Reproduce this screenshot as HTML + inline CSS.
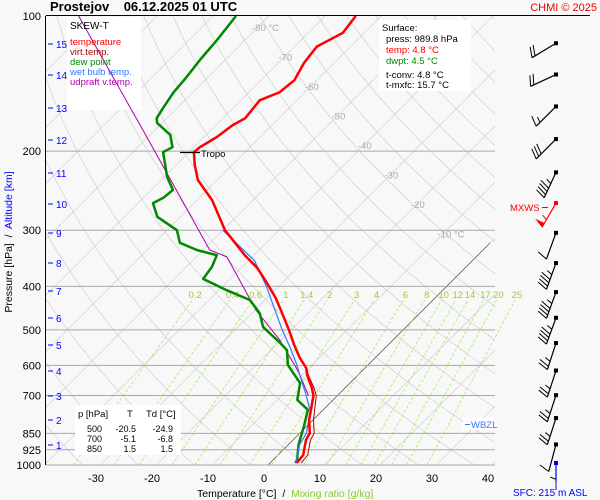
<!DOCTYPE html>
<html><head><meta charset="utf-8">
<style>
html,body{margin:0;padding:0;background:#f8f8f8;}
svg{display:block;font-family:"Liberation Sans",sans-serif;}
</style></head>
<body>
<svg id="chart" width="600" height="500" viewBox="0 0 600 500">
<defs>
<clipPath id="plotClip"><rect x="46" y="16" width="449" height="449"/></clipPath>
<clipPath id="mixClip"><rect x="46" y="300" width="480" height="165"/></clipPath>
</defs>
<rect x="0" y="0" width="600" height="500" fill="#f8f8f8"/>
<g id="grid" clip-path="url(#plotClip)"></g>
<g id="mix" clip-path="url(#mixClip)"></g>
<g id="plines"></g>
<g id="isolabels"></g>

<rect x="67" y="17" width="74" height="93" fill="#fff"/>
<rect x="379" y="20" width="92" height="71" fill="#fff"/>
<rect x="75" y="405" width="106" height="50" fill="#fff"/>

<g id="series" clip-path="url(#plotClip)"></g>
<g id="axes"></g>
<g id="barbs"></g>

<text x="50" y="11" font-size="13" font-weight="bold" fill="#000" style="white-space:pre">Prostejov    06.12.2025 01 UTC</text>
<text x="597" y="11" font-size="11" fill="#e00" text-anchor="end">CHMI © 2025</text>
<line x1="46" y1="15.5" x2="590" y2="15.5" stroke="#000" stroke-width="1"/>

<g>
<text x="70" y="29" font-size="10" fill="#000">SKEW-T</text>
<text x="70" y="45" font-size="9.5" fill="#f00">temperature</text>
<text x="70" y="55" font-size="9.5" fill="#a00">virt.temp.</text>
<text x="70" y="65" font-size="9.5" fill="#080">dew point</text>
<text x="70" y="75" font-size="9.5" fill="#37f">wet bulb temp.</text>
<text x="70" y="85" font-size="9.5" fill="#a0a">udpraft v.temp.</text>
</g>

<g>
<text x="382" y="31" font-size="9.5" fill="#000">Surface:</text>
<text x="386" y="42" font-size="9.5" fill="#000">press: 989.8 hPa</text>
<text x="386" y="53" font-size="9.5" fill="#f00">temp: 4.8 °C</text>
<text x="386" y="64" font-size="9.5" fill="#080">dwpt: 4.5 °C</text>
<text x="386" y="78" font-size="9.5" fill="#000">t-conv: 4.8 °C</text>
<text x="386" y="88" font-size="9.5" fill="#000">t-mxfc: 15.7 °C</text>
</g>

<g>
<text x="78" y="417" font-size="9.5">p [hPa]</text>
<text x="127" y="417" font-size="9.5">T</text>
<text x="146" y="417" font-size="9.5">Td [°C]</text>
<g font-size="9" text-anchor="end">
<text x="102" y="432">500</text>
<text x="136" y="432">-20.5</text>
<text x="173" y="432">-24.9</text>
<text x="102" y="442">700</text>
<text x="136" y="442">-5.1</text>
<text x="173" y="442">-6.8</text>
<text x="102" y="452">850</text>
<text x="136" y="452">1.5</text>
<text x="173" y="452">1.5</text>
</g>
</g>

<g>
<line x1="180" y1="152.5" x2="200" y2="152.5" stroke="#000" stroke-width="1.2"/>
<text x="201" y="157" font-size="9.5" fill="#000">Tropo</text>
</g>
<text x="510" y="211" font-size="9.5" fill="#f00">MXWS</text>
<line x1="542" y1="207.5" x2="548" y2="207.5" stroke="#f00"/>
<rect x="463" y="418" width="30" height="12" fill="#fff"/>
<line x1="465" y1="424.5" x2="470" y2="424.5" stroke="#37f"/>
<text x="471" y="428" font-size="9.5" fill="#37f">WBZL</text>

<text x="197" y="497" font-size="10.5" fill="#000" style="white-space:pre">Temperature [°C]  /  <tspan fill="#8c3">Mixing ratio [g/kg]</tspan></text>
<text x="513" y="496" font-size="10" fill="#00f">SFC: 215 m ASL</text>
<text transform="translate(12,242) rotate(-90)" font-size="10.5" text-anchor="middle" fill="#000" style="white-space:pre">Pressure [hPa]  /  <tspan fill="#00f">Altitude [km]</tspan></text>

<script>
// ---------- data ----------
const tempP = [990,950,879,850,794,735,700,674,630,608,578,540,500,459,425,391,364,341,300,257,232,215,201,196,186,175,169,154,148,139,127,117,109,100];
const tempT = [4.8,4.5,2.3,1.8,-0.7,-2.9,-4.3,-5.9,-9.1,-10.5,-13.4,-16.8,-20.4,-24.6,-28.4,-33.0,-37.1,-41.6,-49.6,-57.3,-63.4,-66.6,-69.1,-68.9,-67.7,-67.0,-66.0,-66.6,-64.5,-64.0,-65.4,-66.0,-63.8,-64.5];
const virtP = [990,950,879,850,794,735,700,674,630,608];
const virtT = [5.6,5.3,3.1,2.6,0.1,-2.3,-3.8,-5.5,-8.9,-10.4];
const dewP = [990,975,900,820,754,716,657,599,555,535,493,459,429,408,385,362,341,332,320,300,280,261,254,244,228,201,196,184,173,169,160,148,137,125,113,100];
const dewT = [4.5,4.3,1.8,-0.5,-2.7,-6.4,-8.9,-14.3,-17.1,-19.6,-25.5,-28.6,-32.7,-38.6,-44.8,-45.4,-46.6,-51.1,-55.4,-58.2,-64.1,-67.3,-66.4,-66.1,-69.5,-74.6,-73.8,-76.4,-80.9,-81.8,-82.5,-83.4,-83.8,-84.5,-85.0,-85.9];
const wetP = [990,900,850,760,700,650,600,550,500,450,400,350,300];
const wetT = [4.6,2.0,1.2,-2.0,-5.6,-9.0,-12.6,-16.8,-21.6,-26.6,-32.2,-39.0,-50.0];
const updP = [700,620,527,452,344,332,179,100];
const updT = [-5.2,-11.2,-20.2,-29.8,-44.5,-48.8,-82.3,-114];
const pressureTicks = [100,200,300,400,500,600,700,850,925,1000];
const tempTicks = [-30,-20,-10,0,10,20,30,40];
const altKm = [1,2,3,4,5,6,7,8,9,10,11,12,13,14,15];
const altY = [445,420,396,371,345,318,291,263,233,204,173,140,108,75,44];
const mixRatios = [0.2,0.4,0.6,1,1.4,2,3,4,6,8,10,12,14,17,20,25];
const isoLabels = [-80,-70,-60,-50,-40,-30,-20,-10];
const windP = [115,135,159,188,223,261,304,355,412,470,535,616,699,786,900,990];
const windDir = [239,245,225,225,205,210,200,200,200,200,198,198,198,198,195,180];
const windSpd = [20,20,15,30,45,55,10,45,45,45,25,25,25,25,10,5];

// ---------- scales ----------
const yP = p => 16 + 195*Math.log(p/100);
const xT = (T,p) => 268 + 5.6*T + (465 - yP(p));
const NS = "http://www.w3.org/2000/svg";
function mk(tag, attrs, parent){
  const e = document.createElementNS(NS, tag);
  for (const k in attrs) e.setAttribute(k, attrs[k]);
  parent.appendChild(e); return e;
}
const grid = document.getElementById('grid');
for (let T=-130; T<=50; T+=10){
  const l = mk('line',{x1:xT(T,1000),y1:yP(1000),x2:xT(T,100),y2:yP(100),stroke:'#d4d4d4','stroke-width':0.8},grid);
  
  
}
for (let th=230; th<=500; th+=10){
  let d='';
  for (let p=1050; p>=95; p-=10){
    const T = th*Math.pow(p/1000,0.286)-273.15;
    d += (d?'L':'M') + xT(T,p).toFixed(1)+','+yP(p).toFixed(1);
  }
  const pa = mk('path',{d:d,fill:'none',stroke:'#d4d4d4','stroke-width':0.8},grid);
  
  
}
const mix = document.getElementById('mix');
function tdFromW(w,p){ const e=w*p/(622+w); const x=Math.log(e/6.112); return 243.5*x/(17.67-x); }
mixRatios.forEach(w=>{
  const l = mk('line',{x1:xT(tdFromW(w,1000),1000),y1:yP(1000),x2:xT(tdFromW(w,380),380),y2:yP(380),stroke:'#a6f070','stroke-width':0.9,'stroke-dasharray':'3,2'},mix);
  
  
  const t = mk('text',{x:xT(tdFromW(w,420),420),y:298,'font-size':9.5,fill:'#9c3','text-anchor':'middle'},document.getElementById('isolabels'));
  t.textContent = String(w);
  
  
});
const isoL = document.getElementById('isolabels');
isoLabels.forEach((T,i)=>{
  const p = 100*Math.exp((27+ i*29.5 -16)/195);
  const t = mk('text',{x:xT(T,p)-6,y:yP(p)+4,'font-size':9.5,fill:'#aaa'},isoL);
  t.textContent = (i===0||i===isoLabels.length-1) ? T+' °C' : String(T);
  
  
});
const pl = document.getElementById('plines');
const axes = document.getElementById('axes');
pressureTicks.forEach(p=>{
  const y = yP(p);
  if (p!==100){
    const l = mk('line',{x1:46,y1:y,x2:495,y2:y,stroke:'#a8a8a8','stroke-width':1},pl);
    
    
  }
  const t = mk('text',{x:41,y:y+4,'font-size':11,'text-anchor':'end',fill:'#000'},axes);
  t.textContent = String(p);
  
  
});
const ax = mk('line',{x1:45.5,y1:16,x2:45.5,y2:465,stroke:'#000','stroke-width':1},axes);


altKm.forEach((k,i)=>{
  const l = mk('line',{x1:48,y1:altY[i],x2:53,y2:altY[i],stroke:'#00f','stroke-width':1},axes);
  
  
  const t = mk('text',{x:56,y:altY[i]+4,'font-size':10,fill:'#00f'},axes);
  t.textContent = String(k);
  
  
});
tempTicks.forEach(T=>{
  const t = mk('text',{x:264+5.6*T,y:482,'font-size':11,'text-anchor':'middle',fill:'#000'},axes);
  t.textContent = String(T);
  
  
});
const zero = mk('line',{x1:xT(0,1000),y1:yP(1000),x2:xT(0,320),y2:yP(320),stroke:'#555','stroke-width':0.7},grid);



const series = document.getElementById('series');
function line(P,T,color,w,name){
  let d='';
  P.forEach((p,i)=>{ d += (i?'L':'M')+xT(T[i],p).toFixed(1)+','+yP(p).toFixed(1); });
  const pa = mk('path',{d:d,fill:'none',stroke:color,'stroke-width':w,'stroke-linejoin':'round'},series);
  
  
}
line(updP,updT,'#a0a',1,'updraft-line');
line(dewP,dewT,'#080',2.5,'dew-point-line');
line(wetP,wetT,'#37f',1.2,'wet-bulb-line');
line(virtP,virtT,'#a00',1,'virtual-temperature-line');
line(tempP,tempT,'#f00',2.5,'temperature-line');

const barbs = document.getElementById('barbs');
windP.forEach((p,i)=>{
  const y0 = yP(p), x0 = 556;
  const a = windDir[i]*Math.PI/180;
  const ux = Math.sin(a), uy = -Math.cos(a);
  const len = i===windP.length-1 ? 18 : 28;
  const x1 = x0+ux*len, y1 = y0+uy*len;
  const col = (i===5) ? '#f00' : '#000';
  const g = mk('g',{},barbs);
  
  
  mk('line',{x1:x0,y1:y0,x2:x1,y2:y1,stroke:col,'stroke-width':1.2},g);
  mk('rect',{x:x0-2,y:y0-2,width:4,height:4,fill:col},g);
  const r = 1.2;
  const bx = ux*Math.cos(r) + uy*Math.sin(r), by = -ux*Math.sin(r)+uy*Math.cos(r);
  let s = windSpd[i], k = 0;
  while (s >= 50){ const px=x1-ux*k*4, py=y1-uy*k*4; mk('polygon',{points:`${px},${py} ${px-bx*11},${py-by*11} ${px-ux*5},${py-uy*5}`,fill:col},g); s-=50; k+=2; }
  while (s >= 10){ const px=x1-ux*k*3.5, py=y1-uy*k*3.5; mk('line',{x1:px,y1:py,x2:px-bx*11,y2:py-by*11,stroke:col,'stroke-width':1},g); s-=10; k++; }
  if (s >= 5){ const px=x1-ux*(k+0.5)*3.5, py=y1-uy*(k+0.5)*3.5; mk('line',{x1:px,y1:py,x2:px-bx*6,y2:py-by*6,stroke:col,'stroke-width':1},g); }
});
const sfc = mk('line',{x1:556,y1:463,x2:556,y2:490,stroke:'#00f','stroke-width':1},barbs);


const sfcDot = mk('rect',{x:554,y:461,width:4,height:4,fill:'#00f'},barbs);


</script>
</svg>
</body></html>
